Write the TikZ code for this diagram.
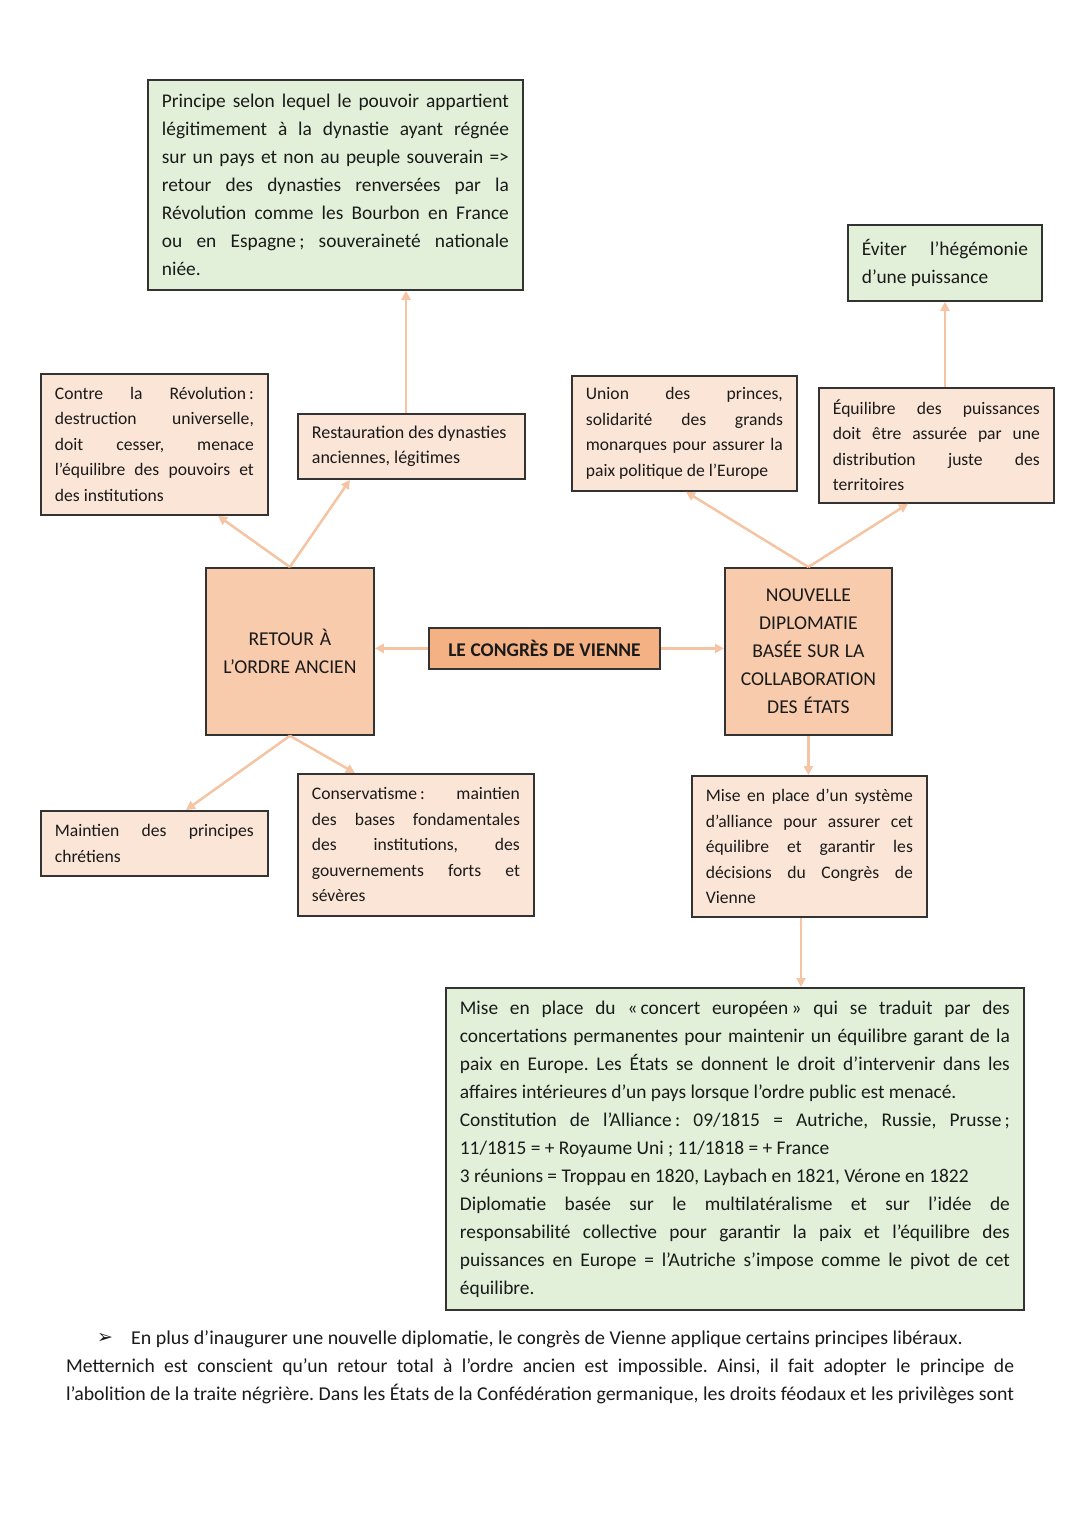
\documentclass[tikz,border=0pt]{standalone}
\usepackage{fontspec}
\setmainfont{Carlito}
\newfontfamily\dejavu{DejaVu Sans}
\usetikzlibrary{arrows.meta,calc}
\definecolor{peachL}{HTML}{FBE5D6}
\definecolor{peachM}{HTML}{F8CBAD}
\definecolor{peachD}{HTML}{F4B183}
\definecolor{greenL}{HTML}{E2F0D9}
\definecolor{arrowc}{HTML}{F5C4A2}
\definecolor{edgec}{HTML}{333333}
\definecolor{txt}{HTML}{1A1A1A}
\newlength{\jw}
\newcommand{\jl}[1]{\makebox[\jw][s]{\spaceskip=0pt\xspaceskip=0pt\frenchspacing #1}\\}
\tikzset{
  box/.style={draw=edgec, line width=1.8pt, anchor=north west, inner xsep=14pt, inner ysep=0pt, align=left, text=txt,
    execute at begin node={\spaceskip=0pt\xspaceskip=0pt\frenchspacing}},
  tw/.style={text width=#1, /utils/exec={\global\jw=#1\relax}},
  tall/.style={font=\fontsize{19.4}{28}\selectfont},
  caps/.style={font=\fontsize{19.6}{28}\selectfont},
  short/.style={font=\fontsize{17.6}{25.5}\selectfont},
  conn/.style={draw=arrowc, line width=2.5pt, -{Triangle[length=9pt,width=9pt]}},
  para/.style={inner sep=0pt, anchor=base west, text=txt, font=\fontsize{19.6}{28}\selectfont\frenchspacing},
}
\begin{document}
\begin{tikzpicture}[x=1pt,y=-1pt]
\useasboundingbox (0,0) rectangle (1080,1527);
\fill[white] (0,0) rectangle (1080,1527);

\node[box, fill=greenL, tall, tw=347pt, minimum height=210pt] (A) at (147,79) {%
\jl{Principe selon lequel le pouvoir appartient}
\jl{légitimement à la dynastie ayant régnée}
\jl{sur un pays et non au peuple souverain =>}
\jl{retour des dynasties renversées par la}
\jl{Révolution comme les Bourbon en France}
\jl{ou en Espagne\,; souveraineté nationale}
niée.};

\node[box, fill=peachL, short, tw=199pt, minimum height=141pt] (B) at (40,373) {%
\jl{Contre la Révolution\,:}
\jl{destruction universelle,}
\jl{doit cesser, menace}
\jl{l’équilibre des pouvoirs et}
des institutions};

\node[box, fill=peachL, font=\fontsize{18}{25.5}\selectfont, tw=199pt, minimum height=65pt] (C) at (297,413) {%
Restauration des dynasties\\
anciennes, légitimes};

\node[box, fill=peachL, short, tw=197pt, minimum height=115pt] (D) at (571,375) {%
\jl{Union des princes,}
\jl{solidarité des grands}
\jl{monarques pour assurer la}
paix politique de l’Europe};

\node[box, fill=greenL, tall, tw=166pt, minimum height=76pt] (E) at (847,224) {%
\jl{Éviter l’hégémonie}
d’une puissance};

\node[box, fill=peachL, short, tw=207pt, minimum height=115pt] (F) at (818,387) {%
\jl{Équilibre des puissances}
\jl{doit être assurée par une}
\jl{distribution juste des}
territoires};

\node[box, fill=peachM, caps, align=center, text width=140pt, minimum height=167pt] (G) at (205,567) {%
RETOUR À\\L’ORDRE ANCIEN};

\node[box, fill=peachD, tall, align=center, text width=203pt, minimum height=41pt] (H) at (428,627) {%
\textbf{LE CONGRÈS DE VIENNE}};

\node[box, fill=peachM, caps, align=center, text width=139pt, minimum height=167pt] (I) at (724,567) {%
NOUVELLE\\DIPLOMATIE\\BASÉE SUR LA\\COLLABORATION\\DES ÉTATS};

\node[box, fill=peachL, short, tw=199pt, minimum height=65pt] (J) at (40,810) {%
\jl{Maintien des principes}
chrétiens};

\node[box, fill=peachL, short, tw=208pt, minimum height=142pt] (K) at (297,773) {%
\jl{Conservatisme\,: maintien}
\jl{des bases fondamentales}
\jl{des institutions, des}
\jl{gouvernements forts et}
sévères};

\node[box, fill=peachL, short, tw=207pt, minimum height=141pt] (L) at (691,775) {%
\jl{Mise en place d’un système}
\jl{d’alliance pour assurer cet}
\jl{équilibre et garantir les}
\jl{décisions du Congrès de}
Vienne};

\node[box, fill=greenL, tall, tw=550pt, minimum height=322pt] (M) at (445,987) {%
\jl{Mise en place du «\,concert européen\,» qui se traduit par des}
\jl{concertations permanentes pour maintenir un équilibre garant de la}
\jl{paix en Europe. Les États se donnent le droit d’intervenir dans les}
affaires intérieures d’un pays lorsque l’ordre public est menacé.\\
\jl{Constitution de l’Alliance\,: 09/1815 = Autriche, Russie, Prusse\,;}
11/1815 = + Royaume Uni ; 11/1818 = + France\\
3 réunions = Troppau en 1820, Laybach en 1821, Vérone en 1822\\
\jl{Diplomatie basée sur le multilatéralisme et sur l’idée de}
\jl{responsabilité collective pour garantir la paix et l’équilibre des}
\jl{puissances en Europe = l’Autriche s’impose comme le pivot de cet}
équilibre.};

% connectors
\draw[conn] (H.west) -- (H.west -| G.east);
\draw[conn] (H.east) -- (H.east -| I.west);
\draw[conn] (G.north) -- ([xshift=178pt]B.south west);
\draw[conn] (G.north) -- ([xshift=53pt]C.south west);
\draw[conn] ([xshift=109pt]C.north west) -- ([xshift=259pt]A.south west);
\draw[conn] (I.north) -- ([xshift=115pt]D.south west);
\draw[conn] (I.north) -- ([xshift=90pt]F.south west);
\draw[conn] ([xshift=127pt]F.north west) -- ([xshift=98pt]E.south west);
\draw[conn] (G.south) -- ([xshift=146pt]J.north west);
\draw[conn] (G.south) -- ([xshift=58pt]K.north west);
\draw[conn] (I.south) -- (I.south |- L.north);
\draw[conn] ([xshift=110pt]L.south west) -- ([xshift=356pt]M.north west);

% bottom paragraph
\node[inner sep=0pt, text=txt, font=\dejavu\fontsize{19}{19}\selectfont] (bul) at (105,1338) {➢};
\node[para] (t1) at (131,1344) {\scalebox{1.018}[1]{En plus d’inaugurer une nouvelle diplomatie, le congrès de Vienne applique certains principes libéraux.}};
\node[para] (t2) at (66,1372) {\makebox[948pt][s]{\frenchspacing Metternich est conscient qu’un retour total à l’ordre ancien est impossible. Ainsi, il fait adopter le principe de}};
\node[para] (t3) at (66,1400) {\resizebox{948pt}{\height}{\frenchspacing l’abolition de la traite négrière. Dans les États de la Confédération germanique, les droits féodaux et les privilèges sont}};
\end{tikzpicture}
\end{document}
